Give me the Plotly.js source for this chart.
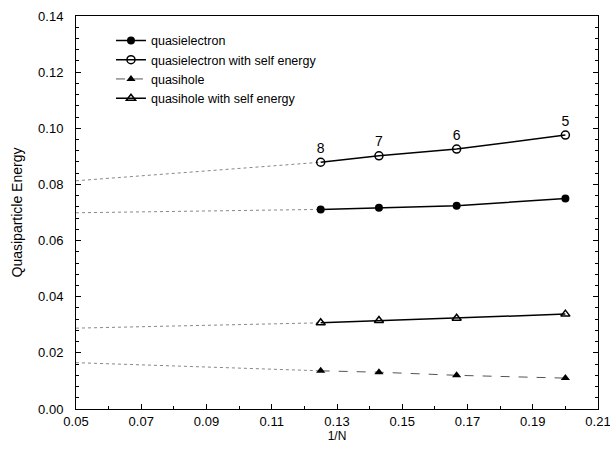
<!DOCTYPE html>
<html>
<head>
<meta charset="utf-8">
<script src="https://cdn.plot.ly/plotly-3.0.1.min.js"></script>
<style>html,body{margin:0;padding:0;background:#fff;}#chart{width:610px;height:449px;}</style>
</head>
<body>
<div id="chart"></div>
<script>
// Data
const invN = [0.125, 0.142857, 0.166667, 0.2];
const nLabels = ["8", "7", "6", "5"];
const quasielectron = [0.0711, 0.0717, 0.0724, 0.0750];
const quasielectronSE = [0.0879, 0.0902, 0.0926, 0.0976];
const quasihole = [0.0136, 0.0131, 0.0120, 0.0110];
const quasiholeSE = [0.0307, 0.0315, 0.0323, 0.0338];
// extrapolation (dotted) lines: from 1/N = 0.05 to 1/N = 1/8
const extX = [0.05, 0.125];
const extQE = [0.0699, 0.0711];
const extQESE = [0.0813, 0.0879];
const extQH = [0.0165, 0.0136];
const extQHSE = [0.0288, 0.0307];
// tick labels
const xTicks = [0.05, 0.07, 0.09, 0.11, 0.13, 0.15, 0.17, 0.19, 0.21];
const xTickText = ["0.05", "0.07", "0.09", "0.11", "0.13", "0.15", "0.17", "0.19", "0.21"];
const yTicks = [0, 0.02, 0.04, 0.06, 0.08, 0.10, 0.12, 0.14];
const yTickText = ["0.00", "0.02", "0.04", "0.06", "0.08", "0.10", "0.12", "0.14"];

const FAM = 'Liberation Sans, Arial, Helvetica, sans-serif';
const dotLine = {color: '#888', width: 1, dash: 'dot'};
function ext(y) {
  return {x: extX, y: y, mode: 'lines', line: dotLine, showlegend: false, hoverinfo: 'skip'};
}

const traces = [
  ext(extQE), ext(extQESE), ext(extQH), ext(extQHSE),
  {x: invN, y: quasielectron, name: 'quasielectron', mode: 'lines+markers',
   line: {color: '#000', width: 1.5}, marker: {symbol: 'circle', size: 8, color: '#000'}},
  {x: invN, y: quasielectronSE, name: 'quasielectron with self energy', mode: 'lines+markers+text',
   text: nLabels, textposition: 'top center', textfont: {family: FAM, size: 14, color: '#000'},
   line: {color: '#000', width: 1.5}, marker: {symbol: 'circle-open', size: 8, color: '#000', line: {width: 1.5}}},
  {x: invN, y: quasihole, name: 'quasihole', mode: 'lines+markers',
   line: {color: '#555', width: 1, dash: 'dash'}, marker: {symbol: 'triangle-up', size: 8, color: '#000'}},
  {x: invN, y: quasiholeSE, name: 'quasihole with self energy', mode: 'lines+markers',
   line: {color: '#000', width: 1.5}, marker: {symbol: 'triangle-up-open', size: 8, color: '#000', line: {width: 1.5}}}
];

const layout = {
  width: 610, height: 449,
  margin: {l: 76, r: 12, t: 16, b: 40},
  paper_bgcolor: '#fff', plot_bgcolor: '#fff',
  font: {family: FAM, size: 13, color: '#000'},
  showlegend: true,
  legend: {x: 0.067, y: 0.975, xanchor: 'left', yanchor: 'top', bgcolor: 'rgba(0,0,0,0)',
           font: {family: FAM, size: 12.5, color: '#000'}, traceorder: 'normal'},
  xaxis: {
    range: [0.05, 0.21], tickmode: 'array', tickvals: xTicks, ticktext: xTickText,
    ticklabeloverflow: 'allow',
    showgrid: false, zeroline: false, showline: true, linecolor: '#000', linewidth: 1, mirror: true,
    ticks: 'inside', ticklen: 5, tickcolor: '#000',
    minor: {tickmode: 'linear', tick0: 0.05, dtick: 0.01, ticks: 'inside', ticklen: 3, tickcolor: '#000', showgrid: false},
    title: {text: '1/N', font: {size: 12}, standoff: 4}
  },
  yaxis: {
    range: [0, 0.14], tickmode: 'array', tickvals: yTicks, ticktext: yTickText,
    ticklabeloverflow: 'allow',
    showgrid: false, zeroline: false, showline: true, linecolor: '#000', linewidth: 1, mirror: 'ticks',
    ticks: 'inside', ticklen: 5, tickcolor: '#000', ticklabelstandoff: 9,
    minor: {tickmode: 'linear', tick0: 0, dtick: 0.004, ticks: 'inside', ticklen: 3, tickcolor: '#000', showgrid: false},
    title: {text: 'Quasiparticle Energy', font: {size: 14}, standoff: 12}
  }
};

Plotly.newPlot('chart', traces, layout, {displayModeBar: false, staticPlot: true});
</script>
</body>
</html>
